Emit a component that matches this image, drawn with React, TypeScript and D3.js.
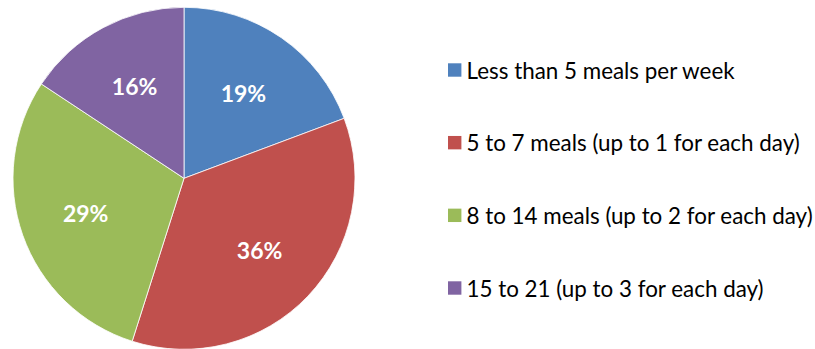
import React from "react";
import * as d3 from "d3";

const categories = [
  "Less than 5 meals per week",
  "5 to 7 meals (up to 1 for each day)",
  "8 to 14 meals (up to 2 for each day)",
  "15 to 21 (up to 3 for each day)",
];
const values = [19.3, 35.6, 29.4, 15.7];
const colors = ["#4F81BD", "#C0504D", "#9BBB59", "#8064A2"];

const W = 815;
const H = 349;
const cx = 184;
const cy = 178.3;
const R = 171;
const FONT = "Lato, 'Open Sans', sans-serif";

export default function App() {
  const pie = d3.pie<number>().sort(null).value((d) => d);
  const arcs = pie(values);
  const arc = d3.arc<d3.PieArcDatum<number>>().innerRadius(0).outerRadius(R);
  const labelArc = d3
    .arc<d3.PieArcDatum<number>>()
    .innerRadius(R * 0.61)
    .outerRadius(R * 0.61);
  const total = d3.sum(values);
  const legendY = d3
    .scalePoint<string>()
    .domain(categories)
    .range([70, 288]);

  return (
    <svg
      width={W}
      height={H}
      style={{ position: "absolute", left: 0, top: 0, background: "#fff" }}
    >
      <g transform={`translate(${cx},${cy})`}>
        {arcs.map((a, i) => (
          <path
            key={i}
            d={arc(a) || ""}
            fill={colors[i]}
            stroke="#fff"
            strokeWidth={0.8}
          />
        ))}
        {arcs.map((a, i) => {
          const [x, y] = labelArc.centroid(a);
          return (
            <text
              key={i}
              x={x}
              y={y}
              textAnchor="middle"
              dominantBaseline="central"
              fill="#fff"
              fontFamily={FONT}
              fontWeight="bold"
              fontSize={23}
            >
              {Math.round((a.data / total) * 100)}%
            </text>
          );
        })}
      </g>
      {categories.map((c, i) => {
        const y = legendY(c) || 0;
        return (
          <g key={c} transform={`translate(448,${y})`}>
            <rect x={0} y={-6.7} width={13.4} height={13.4} fill={colors[i]} />
            <text
              x={18.5}
              y={0}
              dominantBaseline="central"
              fontFamily={FONT}
              fontSize={22.4}
              fill="#000"
            >
              {c}
            </text>
          </g>
        );
      })}
    </svg>
  );
}
